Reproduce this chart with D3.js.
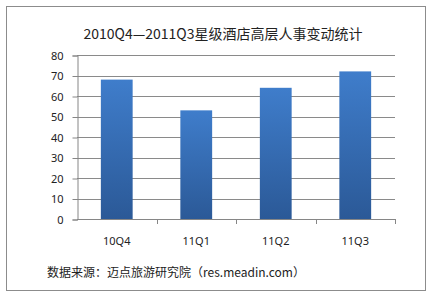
<!DOCTYPE html>
<html>
<head>
	<meta charset="utf-8">
	<title>星级酒店高层人事变动统计</title>
	<script src="https://cdn.jsdelivr.net/npm/d3@7/dist/d3.min.js"></script>
	<style>
		body { margin: 0; background: #fff; }
		text { font-family: "Noto Sans CJK SC", "Noto Sans", sans-serif; }
	</style>
</head>
<body>
	<script type="text/javascript">

		var categories = ["10Q4", "11Q1", "11Q2", "11Q3"];
		var values = [68, 53, 64, 72];
		var yTicks = [0, 10, 20, 30, 40, 50, 60, 70, 80];

		var width = 432, height = 298;
		var plotL = 77, plotR = 395, plotT = 55, plotB = 219;

		var svg = d3.select("body").append("svg")
			.attr("width", width)
			.attr("height", height);

		var defs = svg.append("defs");
		var grad = defs.append("linearGradient")
			.attr("id", "barGrad")
			.attr("x1", 0).attr("y1", 0).attr("x2", 0).attr("y2", 1);
		grad.append("stop").attr("offset", "0%").attr("stop-color", "#3f7dcb");
		grad.append("stop").attr("offset", "100%").attr("stop-color", "#2b5997");

		// outer frame
		svg.append("rect")
			.attr("x", 6.5).attr("y", 6.5)
			.attr("width", 419).attr("height", 284)
			.attr("fill", "#fff")
			.attr("stroke", "#8c8c8c");

		svg.append("text")
			.attr("x", 223).attr("y", 39)
			.attr("text-anchor", "middle")
			.attr("font-size", 14)
			.attr("fill", "#222")
			.text("2010Q4—2011Q3星级酒店高层人事变动统计");

		var x = d3.scaleBand()
			.domain(categories)
			.range([plotL, plotR])
			.paddingInner(0.6)
			.paddingOuter(0.3);

		var y = d3.scaleLinear()
			.domain([0, 80])
			.range([plotB, plotT]);

		// gridlines
		svg.append("g").selectAll("line")
			.data(yTicks.filter(function (d) { return d > 0; }))
			.enter().append("line")
			.attr("x1", plotL).attr("x2", plotR)
			.attr("y1", function (d) { return Math.round(y(d)) + 0.5; })
			.attr("y2", function (d) { return Math.round(y(d)) + 0.5; })
			.attr("stroke", "#8a8a8a");

		svg.append("g").selectAll("rect")
			.data(values)
			.enter().append("rect")
			.attr("x", function (d, i) { return x(categories[i]); })
			.attr("width", x.bandwidth())
			.attr("y", function (d) { return y(d); })
			.attr("height", function (d) { return plotB - y(d); })
			.attr("fill", "url(#barGrad)");

		var yAxis = d3.axisLeft(y)
			.tickValues(yTicks)
			.tickSize(5)
			.tickPadding(9);

		var gy = svg.append("g")
			.attr("transform", "translate(" + (plotL + 0.5) + ",0.5)")
			.call(yAxis);
		gy.select(".domain").attr("stroke", "#868686");
		gy.selectAll(".tick line").attr("stroke", "#868686");
		gy.selectAll("text").attr("font-size", 11).attr("fill", "#222")
			.style("font-family", "'Noto Sans', sans-serif");

		// x axis: ticks at category boundaries
		var bounds = categories.map(function (c, i) { return plotL + (plotR - plotL) / categories.length * (i + 1); });
		var gx = svg.append("g");
		gx.append("line")
			.attr("x1", plotL).attr("x2", plotR)
			.attr("y1", plotB + 0.5).attr("y2", plotB + 0.5)
			.attr("stroke", "#868686");
		gx.selectAll("line.t")
			.data(bounds)
			.enter().append("line")
			.attr("class", "t")
			.attr("x1", function (d) { return Math.round(d) + 0.5; })
			.attr("x2", function (d) { return Math.round(d) + 0.5; })
			.attr("y1", plotB).attr("y2", plotB + 5)
			.attr("stroke", "#868686");
		gx.selectAll("text")
			.data(categories)
			.enter().append("text")
			.attr("x", function (d) { return x(d) + x.bandwidth() / 2; })
			.attr("y", 245)
			.attr("text-anchor", "middle")
			.attr("font-size", 11)
			.attr("fill", "#222")
			.style("font-family", "'Noto Sans', sans-serif")
			.text(function (d) { return d; });

		svg.append("text")
			.attr("x", 47).attr("y", 277)
			.attr("font-size", 12)
			.attr("fill", "#222")
			.text("数据来源：迈点旅游研究院（res.meadin.com）");

	</script>
</body>
</html>
